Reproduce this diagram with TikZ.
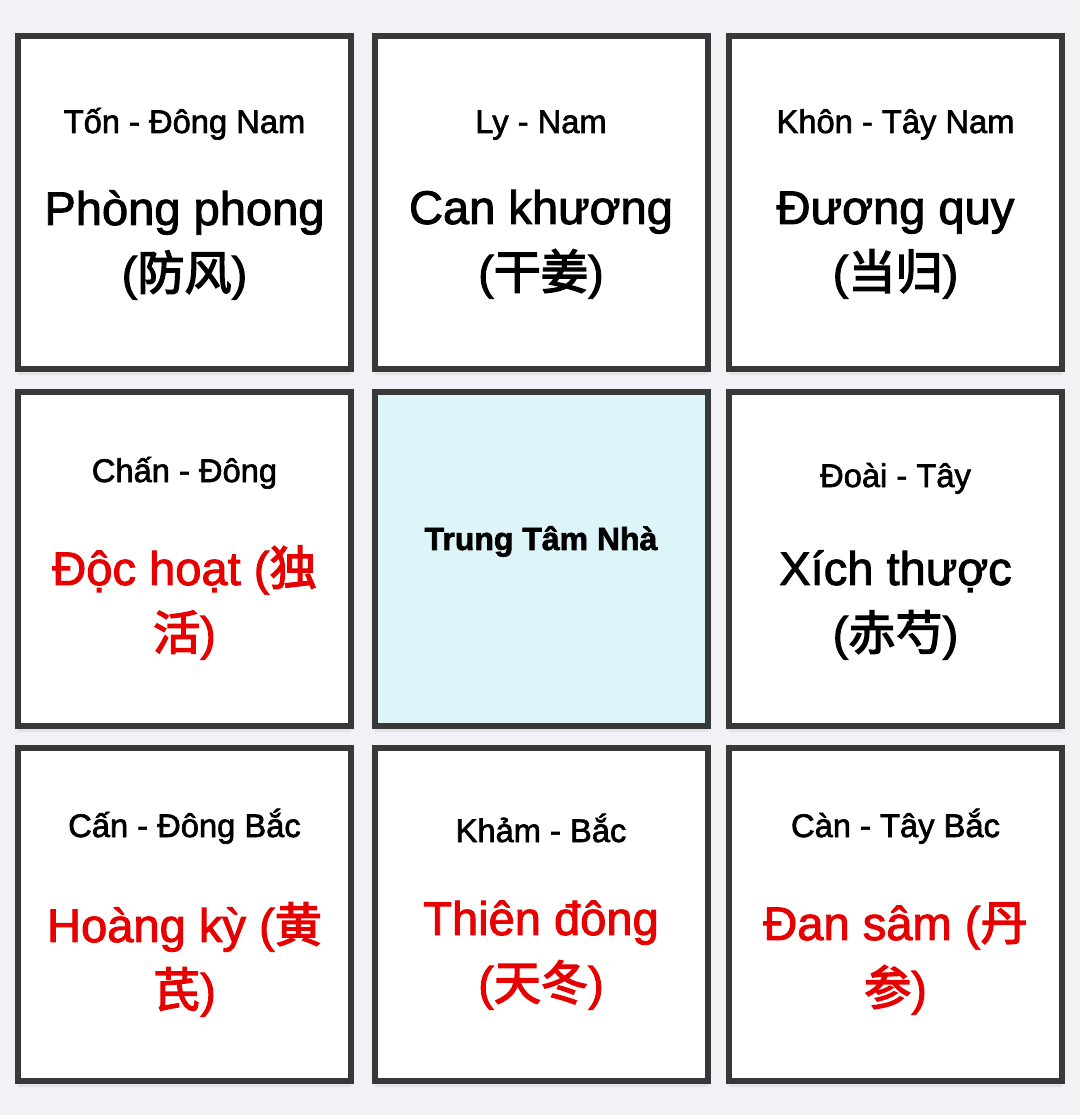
\documentclass[tikz,border=0pt]{standalone}
\usepackage{fontspec}
\setmainfont{Liberation Sans}[RawFeature={embolden=2}]
\newfontfamily\cjk{Noto Sans CJK SC}[RawFeature={embolden=3}]
\usepackage{xcolor}
\usepackage{tikz}
\usetikzlibrary{shadows}
\definecolor{pageGray}{HTML}{F2F1F6}
\definecolor{frameGray}{HTML}{383838}
\definecolor{centerCyan}{HTML}{DDF5F8}
\definecolor{herbRed}{HTML}{E60000}

\begin{document}
\begin{tikzpicture}[
    cell/.style={rectangle,draw=frameGray,line width=0.06cm,fill=white,
                 minimum size=3.33cm,inner sep=0pt,
                 drop shadow={shadow xshift=0pt,shadow yshift=-0.06cm,
                              opacity=0.06,fill=black}},
    hub/.style={cell,fill=centerCyan},
    lab/.style={anchor=base,inner sep=0pt,font=\fontsize{9.3pt}{11pt}\selectfont},
    herb/.style={anchor=base,inner sep=0pt,align=center,
                 font=\fontsize{13.4pt}{18.5pt}\selectfont},
    hot/.style={herb,text=herbRed}
  ]
  %% Page background and bounding box
  \fill[pageGray] (0,0) rectangle (10.8,-11.15);
  \useasboundingbox (0,0) rectangle (10.8,-11.15);
  %% Nine cells of the house grid
  \node[cell] (se) at (1.845,-2.03) {};
  \node[cell] (s)  at (5.41,-2.03)  {};
  \node[cell] (sw) at (8.955,-2.03) {};
  \node[cell] (e)  at (1.845,-5.59) {};
  \node[hub]  (c)  at (5.41,-5.59)  {};
  \node[cell] (w)  at (8.955,-5.59) {};
  \node[cell] (ne) at (1.845,-9.14) {};
  \node[cell] (n)  at (5.41,-9.14)  {};
  \node[cell] (nw) at (8.955,-9.14) {};
  %% Top row (herb nodes sit on the baseline of their last line)
  \node[lab]  (se-lab)  at (1.845,-1.33) {Tốn - Đông Nam};
  \node[herb] (se-herb) at (1.845,-2.90) {Phòng phong\\({\cjk 防风})};
  \node[lab]  (s-lab)   at (5.41,-1.33)  {Ly - Nam};
  \node[herb] (s-herb)  at (5.41,-2.89)  {Can khương\\({\cjk 干姜})};
  \node[lab]  (sw-lab)  at (8.955,-1.33) {Khôn - Tây Nam};
  \node[herb] (sw-herb) at (8.955,-2.89) {Đương quy\\({\cjk 当归})};
  %% Middle row
  \node[lab]  (e-lab)   at (1.845,-4.82) {Chấn - Đông};
  \node[hot]  (e-herb)  at (1.845,-6.50) {Độc hoạt ({\cjk 独}\\{\cjk 活})};
  \node[lab,font=\fontsize{9.1pt}{11pt}\selectfont\bfseries] (c-lab) at (5.41,-5.50) {Trung Tâm Nhà};
  \node[lab]  (w-lab)   at (8.955,-4.87) {Đoài - Tây};
  \node[herb] (w-herb)  at (8.955,-6.50) {Xích thược\\({\cjk 赤芍})};
  %% Bottom row
  \node[lab]  (ne-lab)  at (1.845,-8.37) {Cấn - Đông Bắc};
  \node[hot]  (ne-herb) at (1.845,-10.07) {Hoàng kỳ ({\cjk 黄}\\{\cjk 芪})};
  \node[lab]  (n-lab)   at (5.41,-8.42)  {Khảm - Bắc};
  \node[hot]  (n-herb)  at (5.41,-10.00) {Thiên đông\\({\cjk 天冬})};
  \node[lab]  (nw-lab)  at (8.955,-8.37) {Càn - Tây Bắc};
  \node[hot]  (nw-herb) at (8.955,-10.05) {Đan sâm ({\cjk 丹}\\{\cjk 参})};
\end{tikzpicture}
\end{document}
